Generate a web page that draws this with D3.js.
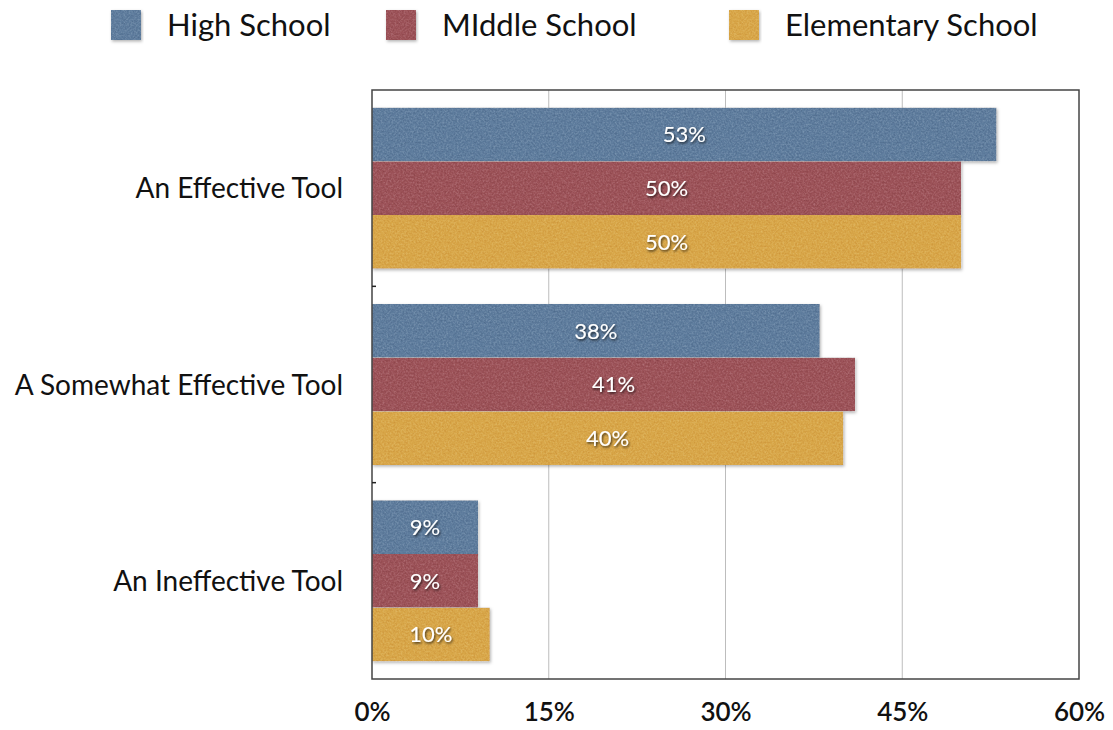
<!DOCTYPE html>
<html>
<head>
<meta charset="utf-8">
<script src="https://cdn.jsdelivr.net/npm/d3@7"></script>
<style>
  html, body { margin: 0; padding: 0; background: #fff; }
  svg { display: block; font-family: Lato, "Open Sans", sans-serif; }
</style>
</head>
<body>
<svg id="chart" width="1113" height="730"></svg>
<script>
// Survey responses by school level
const categories = ["An Effective Tool", "A Somewhat Effective Tool", "An Ineffective Tool"];
const seriesNames = ["High School", "MIddle School", "Elementary School"];
const highSchool = [53, 38, 9];
const middleSchool = [50, 41, 9];
const elementarySchool = [50, 40, 10];
const seriesColors = ["#5e7c9d", "#9c5258", "#d8a648"];
const xTicks = [0, 15, 30, 45, 60];

const seriesValues = [highSchool, middleSchool, elementarySchool];

const svg = d3.select("#chart");
const margin = { left: 372, right: 34, top: 90, bottom: 51 };
const W = 1113, H = 730;
const plotW = W - margin.left - margin.right;
const plotH = H - margin.top - margin.bottom;

// Paper-like grain and soft shadow for the bars
const defs = svg.append("defs");
const f = defs.append("filter").attr("id", "paper")
  .attr("x", "-5%").attr("y", "-10%").attr("width", "115%").attr("height", "130%");
f.append("feTurbulence").attr("type", "fractalNoise").attr("baseFrequency", 0.55)
  .attr("numOctaves", 3).attr("seed", 7).attr("result", "noise");
f.append("feColorMatrix").attr("in", "noise").attr("type", "matrix")
  .attr("values", "0.45 0 0 0 0.28  0.45 0 0 0 0.28  0.45 0 0 0 0.28  0 0 0 0 1").attr("result", "grey");
f.append("feBlend").attr("in", "grey").attr("in2", "SourceGraphic").attr("mode", "soft-light").attr("result", "blend");
f.append("feComposite").attr("in", "blend").attr("in2", "SourceGraphic").attr("operator", "in").attr("result", "textured");
f.append("feDropShadow").attr("in", "textured").attr("dx", 1).attr("dy", 1.5)
  .attr("stdDeviation", 1.5).attr("flood-color", "#000").attr("flood-opacity", 0.3);

const ts = defs.append("filter").attr("id", "textShadow")
  .attr("x", "-20%").attr("y", "-20%").attr("width", "140%").attr("height", "160%");
ts.append("feDropShadow").attr("dx", 1).attr("dy", 1.5).attr("stdDeviation", 0.8)
  .attr("flood-color", "#000").attr("flood-opacity", 0.7);

const x = d3.scaleLinear().domain([0, 60]).range([0, plotW]);
const y0 = d3.scaleBand().domain(categories).range([0, plotH]).paddingInner(0.18).paddingOuter(0.09);
const y1 = d3.scaleBand().domain(seriesNames).range([0, y0.bandwidth()]);

const g = svg.append("g").attr("transform", `translate(${margin.left},${margin.top})`);

// Vertical gridlines
g.append("g").selectAll("line").data(xTicks.slice(1, -1)).join("line")
  .attr("x1", d => x(d)).attr("x2", d => x(d))
  .attr("y1", 0).attr("y2", plotH)
  .attr("stroke", "#bdbdbd").attr("stroke-width", 1);

// Bars
const groups = g.append("g").selectAll("g").data(categories).join("g")
  .attr("transform", d => `translate(0,${y0(d)})`);

groups.each(function (cat, ci) {
  const gg = d3.select(this);
  const rows = seriesNames.map((s, si) => ({ s, si, v: seriesValues[si][ci] }));
  gg.selectAll("rect").data(rows).join("rect")
    .attr("x", 0).attr("y", d => y1(d.s))
    .attr("width", d => x(d.v)).attr("height", y1.bandwidth())
    .attr("fill", d => seriesColors[d.si])
    .attr("filter", "url(#paper)");
  gg.selectAll("text").data(rows).join("text")
    .attr("x", d => x(d.v) / 2).attr("y", d => y1(d.s) + y1.bandwidth() / 2)
    .attr("dy", "0.36em").attr("text-anchor", "middle")
    .attr("fill", "#fff").attr("font-size", 22)
    .attr("filter", "url(#textShadow)")
    .text(d => d.v + "%");
});

// Plot frame
g.append("rect").attr("x", 0).attr("y", 0).attr("width", plotW).attr("height", plotH)
  .attr("fill", "none").attr("stroke", "#444").attr("stroke-width", 1.5);

// Separator ticks between categories on the left axis
const sepY = categories.slice(1).map(c => y0(c) - y0.step() * y0.paddingInner() / 2);
g.append("g").selectAll("line").data(sepY).join("line")
  .attr("x1", 0).attr("x2", 4).attr("y1", d => d).attr("y2", d => d)
  .attr("stroke", "#222").attr("stroke-width", 1.5);

// Category labels
g.append("g").selectAll("text").data(categories).join("text")
  .attr("x", -29).attr("y", d => y0(d) + y0.bandwidth() / 2)
  .attr("dy", "0.36em").attr("text-anchor", "end")
  .attr("font-size", 28).attr("fill", "#111")
  .text(d => d);

// X axis labels
const xAxis = d3.axisBottom(x).tickValues(xTicks).tickFormat(d => d + "%").tickSize(0).tickPadding(24);
const ax = g.append("g").attr("transform", `translate(0,${plotH})`).call(xAxis);
ax.select(".domain").remove();
ax.selectAll("text").attr("font-size", 26).attr("font-weight", 600)
  .attr("fill", "#111").attr("font-family", "Lato, sans-serif");

// Legend
const legendX = [111, 386, 729];
const legend = svg.append("g").selectAll("g").data(seriesNames).join("g")
  .attr("transform", (d, i) => `translate(${legendX[i]},10)`);
legend.append("rect").attr("width", 30).attr("height", 30)
  .attr("fill", (d, i) => seriesColors[i]).attr("filter", "url(#paper)");
legend.append("text").attr("x", 56).attr("y", 15).attr("dy", "0.36em")
  .attr("font-size", 31).attr("fill", "#111").text(d => d);
</script>
</body>
</html>
